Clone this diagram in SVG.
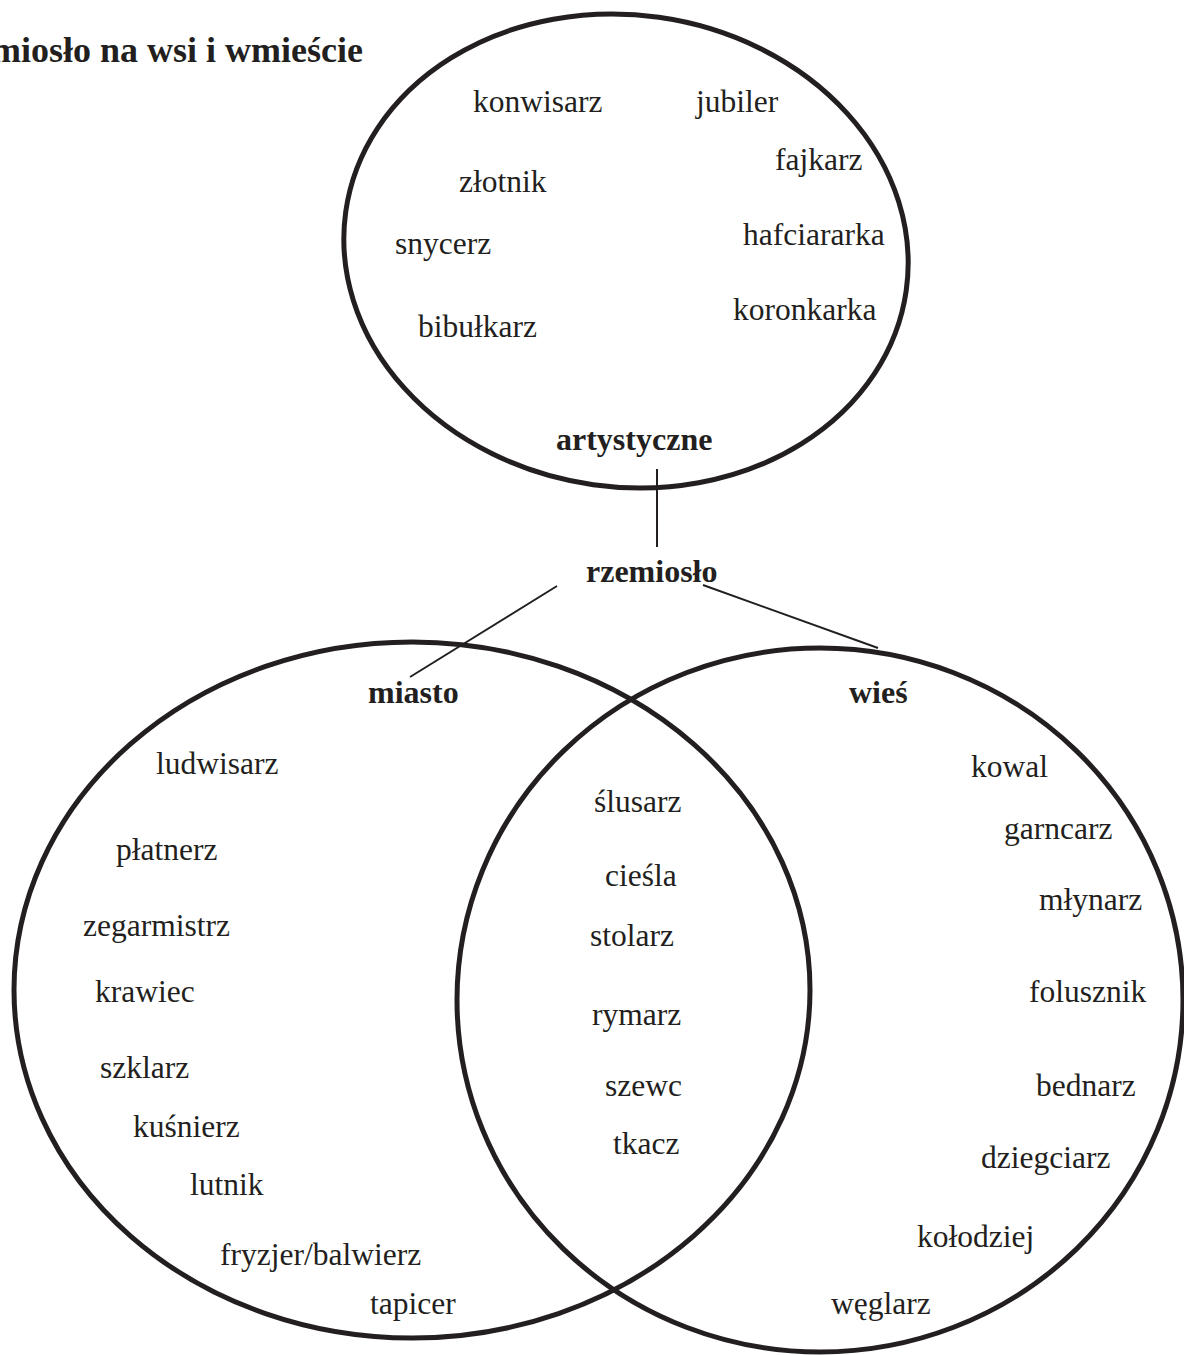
<svg xmlns="http://www.w3.org/2000/svg" width="1184" height="1355" viewBox="0 0 1184 1355">
<style>
.t{font-family:"Liberation Serif","Times New Roman",serif;font-size:31.5px;fill:#231f20}
.b{font-family:"Liberation Serif","Times New Roman",serif;font-size:32px;font-weight:bold;fill:#231f20}
.c{fill:none;stroke:#231f20;stroke-width:5}
.l{stroke:#231f20;stroke-width:2;fill:none}
</style>
<rect width="1184" height="1355" fill="#fff"/>
<text class="b" x="363" y="62" text-anchor="end" style="font-size:36px">Rzemiosło na wsi i wmieście</text>
<g id="artystyczne">
<ellipse class="c" cx="626" cy="251" rx="283" ry="236" transform="rotate(8 626 251)"/>
<text class="t" x="473" y="112">konwisarz</text>
<text class="t" x="696" y="112">jubiler</text>
<text class="t" x="775" y="170">fajkarz</text>
<text class="t" x="459" y="192">złotnik</text>
<text class="t" x="743" y="245">hafciararka</text>
<text class="t" x="395" y="254">snycerz</text>
<text class="t" x="733" y="320">koronkarka</text>
<text class="t" x="418" y="337">bibułkarz</text>
<text class="b" x="556" y="450">artystyczne</text>
</g>
<g id="rzemioslo">
<text class="b" x="586" y="582">rzemiosło</text>
</g>
<g id="miasto">
<ellipse class="c" cx="412" cy="990" rx="398" ry="348"/>
<text class="b" x="368" y="703">miasto</text>
<text class="t" x="156" y="774">ludwisarz</text>
<text class="t" x="116" y="860">płatnerz</text>
<text class="t" x="83" y="936">zegarmistrz</text>
<text class="t" x="95" y="1002">krawiec</text>
<text class="t" x="100" y="1078">szklarz</text>
<text class="t" x="133" y="1137">kuśnierz</text>
<text class="t" x="190" y="1195">lutnik</text>
<text class="t" x="220" y="1265">fryzjer/balwierz</text>
<text class="t" x="370" y="1314">tapicer</text>
</g>
<g id="wies">
<ellipse class="c" cx="820" cy="1000" rx="363" ry="352"/>
<text class="b" x="849" y="703">wieś</text>
<text class="t" x="971" y="777">kowal</text>
<text class="t" x="1004" y="839">garncarz</text>
<text class="t" x="1039" y="910">młynarz</text>
<text class="t" x="1029" y="1002">folusznik</text>
<text class="t" x="1036" y="1096">bednarz</text>
<text class="t" x="981" y="1168">dziegciarz</text>
<text class="t" x="917" y="1247">kołodziej</text>
<text class="t" x="831" y="1314">węglarz</text>
</g>
<g id="wspolne">
<text class="t" x="594" y="812">ślusarz</text>
<text class="t" x="605" y="886">cieśla</text>
<text class="t" x="590" y="946">stolarz</text>
<text class="t" x="592" y="1025">rymarz</text>
<text class="t" x="605" y="1096">szewc</text>
<text class="t" x="613" y="1154">tkacz</text>
</g>
<g id="connectors">
<line class="l" x1="657" y1="469" x2="657" y2="547"/>
<line class="l" x1="557" y1="586" x2="410" y2="677"/>
<line class="l" x1="703" y1="585" x2="878" y2="648"/>
</g>
</svg>
